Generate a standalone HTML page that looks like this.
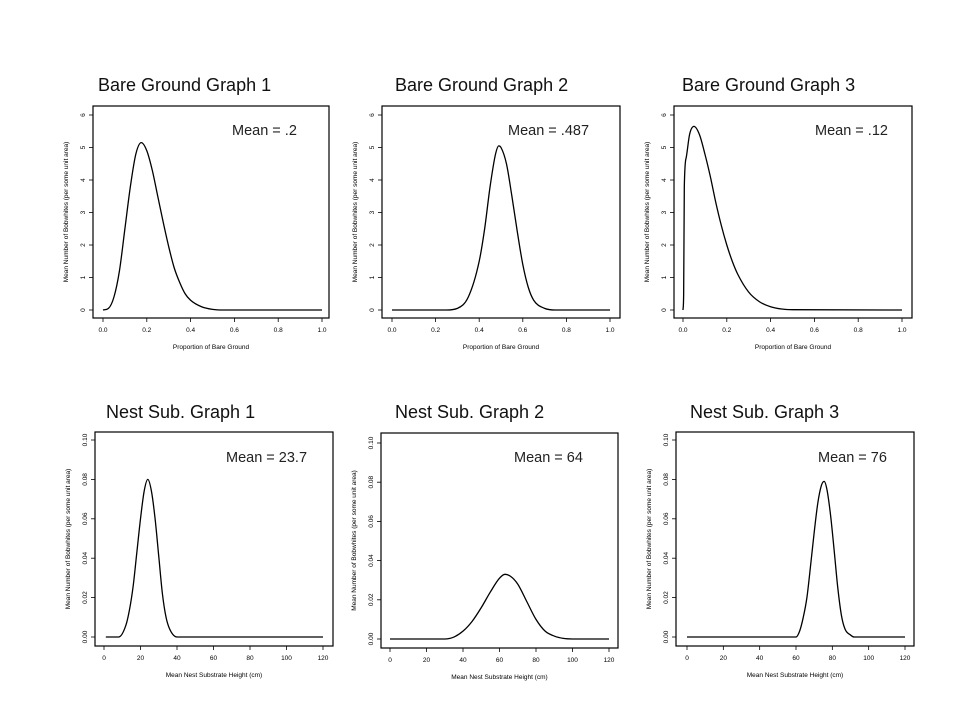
<!DOCTYPE html>
<html><head><meta charset="utf-8"><style>
html,body{margin:0;padding:0;background:#fff;}
svg{display:block;}
</style></head><body>
<svg id="c" width="960" height="720" viewBox="0 0 960 720" xmlns="http://www.w3.org/2000/svg"></svg>
<script>
// Data arrays
const bareTicks = ["0.0","0.2","0.4","0.6","0.8","1.0"];
const bareTickVals = [0,0.2,0.4,0.6,0.8,1.0];
const bareYTicks = [0,1,2,3,4,5,6];
const nestTicks = [0,20,40,60,80,100,120];
const nestYTicks = [0,0.02,0.04,0.06,0.08,0.10];
const nestYLabels = ["0.00","0.02","0.04","0.06","0.08","0.10"];

const g1x = [0,0.025,0.05,0.075,0.1,0.125,0.15,0.175,0.2,0.225,0.25,0.275,0.3,0.325,0.35,0.375,0.4,0.45,0.5,0.55,1.0];
const g1y = [0,0.05,0.4,1.2,2.5,3.8,4.8,5.15,4.9,4.3,3.5,2.7,1.95,1.3,0.85,0.5,0.3,0.1,0.02,0,0];
const g2x = [0,0.25,0.3,0.35,0.4,0.425,0.45,0.475,0.49,0.5,0.525,0.55,0.575,0.6,0.625,0.65,0.7,0.75,1.0];
const g2y = [0,0,0.05,0.4,1.5,2.5,3.8,4.8,5.05,5.0,4.5,3.5,2.4,1.4,0.7,0.3,0.05,0,0];
const g3x = [0,0.003,0.006,0.015,0.03,0.05,0.075,0.1,0.125,0.15,0.175,0.2,0.225,0.25,0.3,0.35,0.4,0.45,0.5,1.0];
const g3y = [0,0.5,3.8,4.7,5.4,5.65,5.4,4.8,4.1,3.3,2.6,2.0,1.5,1.1,0.55,0.25,0.1,0.03,0.01,0];
const n1x = [1,8,12,14,16,18,20,22,24,26,28,30,32,34,36,40,120];
const n1y = [0,0,0.006,0.014,0.026,0.043,0.06,0.074,0.080,0.074,0.06,0.041,0.022,0.01,0.004,0,0];
const n2x = [0,30,35,40,45,50,55,60,63,66,70,75,80,85,90,95,100,120];
const n2y = [0,0,0.001,0.004,0.009,0.016,0.024,0.031,0.033,0.032,0.028,0.019,0.01,0.004,0.0015,0.0003,0,0];
const n3x = [0,60,62,64,66,68,70,72,74,75.5,77,79,81,83,85,87,90,92,120];
const n3y = [0,0,0.003,0.01,0.02,0.036,0.053,0.068,0.077,0.079,0.075,0.062,0.044,0.025,0.011,0.004,0.001,0,0];

const titles = ["Bare Ground Graph 1","Bare Ground Graph 2","Bare Ground Graph 3","Nest Sub. Graph 1","Nest Sub. Graph 2","Nest Sub. Graph 3"];
const means = ["Mean = .2","Mean = .487","Mean = .12","Mean = 23.7","Mean = 64","Mean = 76"];

const NS="http://www.w3.org/2000/svg";
const svg=document.getElementById('c');
function mk(tag,attrs,parent){const e=document.createElementNS(NS,tag);for(const k in attrs)e.setAttribute(k,attrs[k]);(parent||svg).appendChild(e);return e;}

// monotone cubic path (Fritsch-Carlson)
function monoPath(px,py){
  const n=px.length;if(n<2)return '';
  const d=[],m=new Array(n);
  for(let i=0;i<n-1;i++)d.push((py[i+1]-py[i])/(px[i+1]-px[i]));
  m[0]=d[0];m[n-1]=d[n-2];
  for(let i=1;i<n-1;i++){m[i]=(d[i-1]*d[i]<=0)?0:(d[i-1]+d[i])/2;}
  for(let i=0;i<n-1;i++){
    if(d[i]===0){m[i]=0;m[i+1]=0;continue;}
    const a=m[i]/d[i],b=m[i+1]/d[i],s=a*a+b*b;
    if(s>9){const t=3/Math.sqrt(s);m[i]=t*a*d[i];m[i+1]=t*b*d[i];}
  }
  let s='M'+px[0].toFixed(2)+','+py[0].toFixed(2);
  for(let i=0;i<n-1;i++){
    const h=px[i+1]-px[i];
    s+=' C'+(px[i]+h/3).toFixed(2)+','+(py[i]+m[i]*h/3).toFixed(2)+' '+(px[i+1]-h/3).toFixed(2)+','+(py[i+1]-m[i+1]*h/3).toFixed(2)+' '+px[i+1].toFixed(2)+','+py[i+1].toFixed(2);
  }
  return s;
}

const panels=[
 {box:[93,106,329,318],x0:103,x1:322,xmax:1,y0:310,y1:115,ymax:6,xs:g1x,ys:g1y,tx:98,ty:91,mx:232,my:135,kind:"bare"},
 {box:[382,106,620,318],x0:392,x1:610,xmax:1,y0:310,y1:115,ymax:6,xs:g2x,ys:g2y,tx:395,ty:91,mx:508,my:135,kind:"bare"},
 {box:[674,106,912,318],x0:683,x1:902,xmax:1,y0:310,y1:115,ymax:6,xs:g3x,ys:g3y,tx:682,ty:91,mx:815,my:135,kind:"bare"},
 {box:[95,432,333,646],x0:104,x1:323,xmax:120,y0:637,y1:440,ymax:0.1,xs:n1x,ys:n1y,tx:106,ty:418,mx:226,my:462,kind:"nest"},
 {box:[381,433,618,648],x0:390,x1:609,xmax:120,y0:639,y1:443,ymax:0.1,xs:n2x,ys:n2y,tx:395,ty:418,mx:514,my:462,kind:"nest"},
 {box:[676,432,914,646],x0:687,x1:905,xmax:120,y0:637,y1:440,ymax:0.1,xs:n3x,ys:n3y,tx:690,ty:418,mx:818,my:462,kind:"nest"}
];

panels.forEach((p,i)=>{
  const g=mk('g',{});
  
  
  const X=v=>p.x0+(v/p.xmax)*(p.x1-p.x0);
  const Y=v=>p.y0+(v/p.ymax)*(p.y1-p.y0);
  const t=mk('text',{x:p.tx,y:p.ty,'font-family':'Liberation Sans, sans-serif','font-size':18,fill:'#111'},g);
  t.textContent=titles[i];
  
  
  const b=p.box;
  const r=mk('rect',{x:b[0],y:b[1],width:b[2]-b[0],height:b[3]-b[1],fill:'none',stroke:'#000','stroke-width':1.2},g);
  
  
  const m=mk('text',{x:p.mx,y:p.my,'font-family':'Liberation Sans, sans-serif','font-size':14.5,fill:'#222'},g);
  m.textContent=means[i];
  
  
  const xt = p.kind==="bare"?bareTickVals:nestTicks;
  const xl = p.kind==="bare"?bareTicks:nestTicks.map(String);
  xt.forEach((v,k)=>{
    mk('line',{x1:X(v),x2:X(v),y1:b[3],y2:b[3]+4,stroke:'#000','stroke-width':0.8},g);
    const tt=mk('text',{x:X(v),y:b[3]+14,'font-family':'Liberation Sans, sans-serif','font-size':6.5,'text-anchor':'middle',fill:'#000'},g);
    tt.textContent=xl[k];
    
    
  });
  const yt = p.kind==="bare"?bareYTicks:nestYTicks;
  const yl = p.kind==="bare"?bareYTicks.map(String):nestYLabels;
  yt.forEach((v,k)=>{
    mk('line',{x1:b[0]-4,x2:b[0],y1:Y(v),y2:Y(v),stroke:'#000','stroke-width':0.8},g);
    const tx=b[0]-8;
    const tt=mk('text',{x:tx,y:Y(v),'font-family':'Liberation Sans, sans-serif','font-size':6.5,'text-anchor':'middle',transform:`rotate(-90 ${tx} ${Y(v)})`,fill:'#000'},g);
    tt.textContent=yl[k];
    
    
  });
  const xa=mk('text',{x:(b[0]+b[2])/2,y:b[3]+31,'font-family':'Liberation Sans, sans-serif','font-size':6.5,'text-anchor':'middle',fill:'#000'},g);
  xa.textContent=p.kind==="bare"?"Proportion of Bare Ground":"Mean Nest Substrate Height (cm)";
  
  
  const yx=b[0]-25, yy=(b[1]+b[3])/2;
  const ya=mk('text',{x:yx,y:yy,'font-family':'Liberation Sans, sans-serif','font-size':6.5,'text-anchor':'middle',transform:`rotate(-90 ${yx} ${yy})`,fill:'#000'},g);
  ya.textContent="Mean Number of Bobwhites (per some unit area)";
  
  
  const px=p.xs.map(X), py=p.ys.map(Y);
  const pl=mk('path',{d:monoPath(px,py),fill:'none',stroke:'#000','stroke-width':1.3,'stroke-linejoin':'round'},g);
  
  
});
</script>
</body></html>
